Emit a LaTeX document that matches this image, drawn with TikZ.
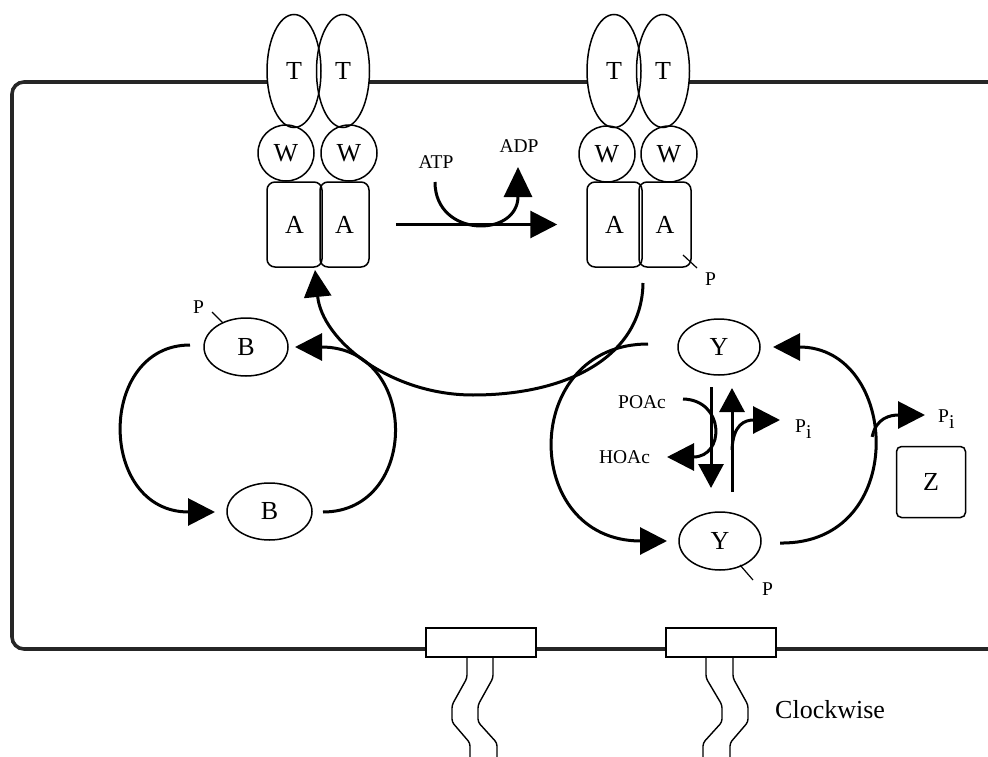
\documentclass[tikz,border=0pt]{standalone}
\usepackage{fontspec}
\setmainfont{Liberation Serif}
\usetikzlibrary{arrows.meta,shapes.geometric}
\begin{document}
\begin{tikzpicture}[x=1pt,y=-1pt,
  part/.style={draw, line width=1.5pt, inner sep=0pt, font=\fontsize{26}{26}\selectfont},
  tpart/.style={part, ellipse, minimum width=54pt, minimum height=113pt},
  wpart/.style={part, circle, minimum size=56pt},
  apart/.style={part, rectangle, rounded corners=8pt, minimum height=85pt},
  oval/.style={part, ellipse, minimum width=83pt, minimum height=57pt},
  small/.style={inner sep=0pt, font=\fontsize{19.5}{19.5}\selectfont},
  big/.style={inner sep=0pt, font=\fontsize{26}{26}\selectfont},
  flow/.style={line width=3pt, -{Triangle[length=27pt,width=27pt]}},
  flowS/.style={line width=3pt, -{Triangle[length=24pt,width=25pt]}},
  membrane/.style={line width=3.6pt, black!85, rounded corners=12pt},
  tick/.style={line width=1.2pt},
  motor/.style={draw, line width=1.4pt, fill=white, minimum width=110pt, minimum height=29pt, inner sep=0pt},
  shaft/.style={line width=1.4pt, rounded corners=3pt},
]
\useasboundingbox (0,0) rectangle (988,757);

% cell membrane
\draw[membrane] (995,82) -| (12,649) -- (995,649);

% white backgrounds under the receptor T domains
\foreach \cx/\rx in {294/27,343/26.5,614/27,663/26.5}{
  \fill[white] (\cx,71) ellipse [x radius=\rx pt, y radius=56.5pt];
}

% left receptor
\node[tpart] (T1) at (294,71) {T};
\node[tpart, minimum width=53pt] (T2) at (343,71) {T};
\node[wpart] (W1) at (286,153) {W};
\node[wpart] (W2) at (349,153) {W};
\node[apart, minimum width=55pt] (A1) at (294.5,224.5) {A};
\node[apart, minimum width=49pt] (A2) at (344.5,224.5) {A};

% right receptor
\node[tpart] (T3) at (614,71) {T};
\node[tpart, minimum width=53pt] (T4) at (663,71) {T};
\node[wpart] (W3) at (607,154) {W};
\node[wpart] (W4) at (669,154) {W};
\node[apart, minimum width=55pt] (A3) at (614.5,224.5) {A};
\node[apart, minimum width=52pt] (A4) at (665,224.5) {A};
\node[small, anchor=base west] (P1) at (705,285) {P};
\coordinate (p1a) at (683,255);
\coordinate (p1b) at (697,268);
\draw[tick] (p1a) -- (p1b);

% ATP -> ADP phosphorylation
\node[small] (ATP) at (436,162) {ATP};
\node[small, anchor=base] (ADP) at (519,153) {ADP};
\coordinate (atpS) at ([xshift=26pt]A2.east);
\coordinate (atpE) at ([xshift=-29pt]A3.west);
\draw[flow] (atpS) -- (atpE);
\coordinate (atp1) at (435,182);
\coordinate (adp1) at (518,167);
\draw[flow, -{Triangle[length=30pt,width=28pt]}] (atp1) .. controls (435,238) and (518,238) .. (adp1);

% big return arc
\coordinate (bigS) at (643,283);
\coordinate (bigE) at (315,270);
\draw[flow] (bigS) .. controls (642,355) and (570,395) .. (473,395) .. controls (390,395) and (322,340) .. (bigE);

% B cycle
\node[oval, minimum width=84pt, minimum height=58pt] (B1) at (246,347) {B};
\node[oval, minimum width=85pt, minimum height=57pt] (B2) at (269.5,511.5) {B};
\node[small, anchor=base west] (P2) at (193,313) {P};
\coordinate (p2a) at (212,312);
\coordinate (p2b) at (223,323);
\draw[tick] (p2a) -- (p2b);
\coordinate (b1l) at (190,345);
\coordinate (b2l) at (215,512);
\coordinate (b2r) at (323,512);
\coordinate (b1r) at (295,347);
\draw[flow] (b1l) .. controls (97,345) and (97,512) .. (b2l);
\draw[flow] (b2r) .. controls (420,512) and (420,347) .. (b1r);

% Y cycle
\node[oval, minimum width=82pt, minimum height=56pt] (Y1) at (719,347) {Y};
\node[oval, minimum width=82pt, minimum height=58pt] (Y2) at (720,541) {Y};
\node[small, anchor=base west] (P3) at (762,595) {P};
\coordinate (p3a) at (740,565);
\coordinate (p3b) at (753,580);
\draw[tick] (p3a) -- (p3b);
\coordinate (y1l) at (648,344);
\coordinate (y2l) at (667,541);
\coordinate (y2r) at (780,543);
\coordinate (y1r) at (773,347);
\draw[flow] (y1l) .. controls (520,344) and (520,541) .. (y2l);
\draw[flow] (y2r) .. controls (910,545) and (900,347) .. coordinate[pos=0.53] (ybr) (y1r);

% right P_i release
\coordinate (pi2) at (925,415);
\draw[flow] (ybr) .. controls (876,418) and (890,415) .. (pi2);
\node[small, anchor=base west] (Pi2) at (938,422) {P\raisebox{-6pt}{i}};

% Z box
\node[part, rectangle, rounded corners=5pt, minimum width=69pt, minimum height=71pt] (Z) at (931,482) {Z};

% inner reactions
\coordinate (dn1) at (711,387);
\coordinate (dn2) at (711,488);
\coordinate (up1) at (732,492);
\coordinate (up2) at (732,388);
\draw[flowS] (dn1) -- (dn2);
\draw[flowS] (up1) -- (up2);
\node[small, anchor=base] (POAc) at (642,408) {POAc};
\node[small, anchor=base] (HOAc) at (624.5,463) {HOAc};
\coordinate (po1) at (683,399);
\coordinate (ho1) at (667,457);
\draw[flow] (po1) .. controls (725,400) and (725,457) .. (ho1);
\coordinate (pib) at (732,450);
\coordinate (pi1) at (780,420);
\draw[flow] (pib) .. controls (733,424) and (745,420) .. (pi1);
\node[small, anchor=base west] (Pi1) at (795,432) {P\raisebox{-6pt}{i}};

% flagellar motors
\node[motor] (M1) at (481,642.5) {};
\node[motor] (M2) at (721,642.5) {};
\draw[shaft] (M1.south -| 467,0) -- (467,678) -- (452,705) -- (452,722) -- (470,743) -- (470,760);
\draw[shaft] (M1.south -| 493,0) -- (493,678) -- (478,705) -- (478,722) -- (497,743) -- (497,760);
\draw[shaft] (M2.south -| 706,0) -- (706,678) -- (722,705) -- (722,722) -- (703,743) -- (703,760);
\draw[shaft] (M2.south -| 733,0) -- (733,678) -- (748,705) -- (748,722) -- (730,743) -- (730,760);

\node[big, anchor=base west] (cw) at (775,718) {Clockwise};
\end{tikzpicture}
\end{document}
